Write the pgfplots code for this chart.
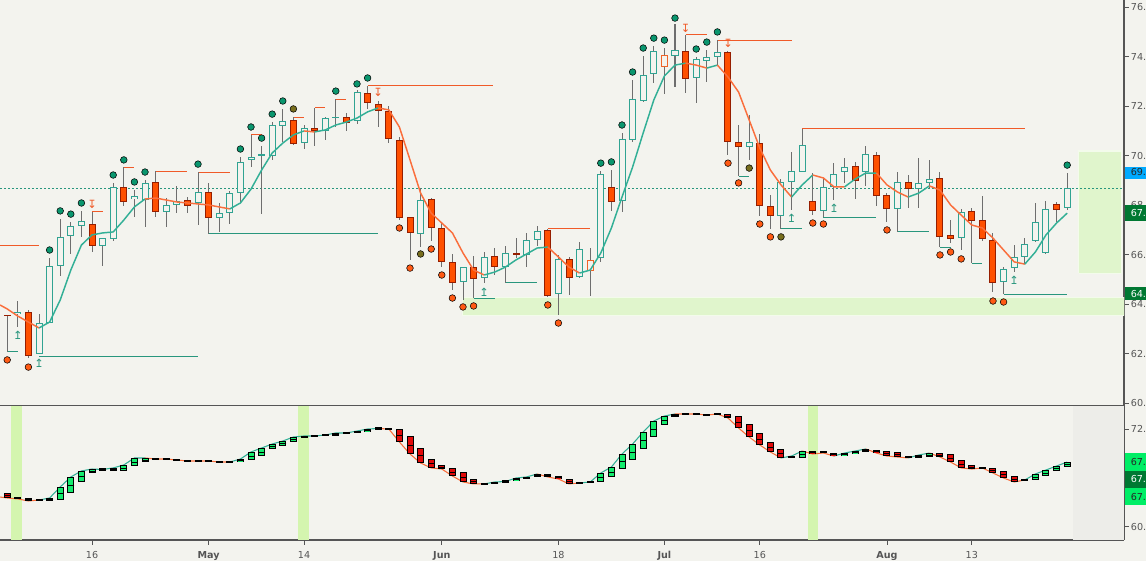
\documentclass[border=0pt]{standalone}
\usepackage{fontspec}
\setmainfont{DejaVu Sans}
\usepackage{pgfplots}
\pgfplotsset{compat=1.18}
\usepackage{pgfplotstable}
\definecolor{bg}{RGB}{243,243,238}
\definecolor{upc}{RGB}{48,163,146}
\definecolor{dnf}{RGB}{255,80,0}
\definecolor{dnb}{RGB}{150,30,0}
\definecolor{orb}{RGB}{240,100,40}
\definecolor{wick}{RGB}{110,110,110}
\definecolor{gdot}{RGB}{10,150,110}
\definecolor{odot}{RGB}{255,90,20}
\definecolor{olv}{RGB}{120,110,30}
\definecolor{mat}{RGB}{50,175,150}
\definecolor{mao}{RGB}{250,110,60}
\definecolor{resc}{RGB}{240,90,40}
\definecolor{supc}{RGB}{40,150,125}
\definecolor{band}{RGB}{224,245,204}
\definecolor{vband}{RGB}{212,245,175}
\definecolor{lred}{RGB}{225,10,10}
\definecolor{lgrn}{RGB}{20,235,110}
\definecolor{axc}{RGB}{85,85,85}
\definecolor{shade}{RGB}{237,237,233}
\definecolor{lblue}{RGB}{0,170,255}
\definecolor{dgrn}{RGB}{0,120,50}
\definecolor{bgrn}{RGB}{0,238,102}

\pgfplotstableread{
i o h l c
-7 63.59 64.13 63.08 63.70
-5 61.99 63.60 61.99 63.24
-4 63.24 65.87 63.24 65.54
-3 65.54 67.44 65.14 66.72
-2 66.76 67.32 66.03 67.16
-1 67.16 67.77 66.72 67.36
1 66.35 66.67 65.54 66.67
2 66.63 68.90 66.55 68.74
4 68.25 68.61 67.52 68.37
5 68.21 69.02 67.12 68.90
7 67.73 68.29 67.12 68.01
8 68.01 68.78 67.68 68.17
10 68.09 69.34 67.20 68.53
12 67.48 68.09 66.92 67.68
13 67.68 68.57 67.24 68.49
14 68.49 69.95 68.09 69.75
15 69.83 70.84 69.54 69.95
16 70.02 70.39 67.64 70.04
17 69.99 71.36 69.83 71.24
18 71.20 71.89 70.55 71.40
20 70.51 71.24 70.27 71.12
22 71.00 71.56 70.63 71.52
23 71.55 72.29 71.16 71.57
25 71.40 72.65 71.28 72.57
31 66.84 68.69 66.31 68.21
35 64.90 65.50 64.17 65.50
37 65.06 66.11 64.86 65.91
39 65.50 66.35 64.86 66.07
41 65.99 66.88 65.50 66.59
42 66.59 67.16 66.35 66.96
44 64.41 65.99 63.56 65.83
46 65.10 66.51 65.06 66.23
48 65.87 69.38 65.71 69.26
50 68.17 70.92 67.73 70.67
51 70.63 73.06 70.55 72.29
52 72.21 74.03 72.17 73.26
53 73.30 74.43 72.94 74.23
55 74.03 75.32 72.78 74.27
57 73.14 73.99 72.13 73.91
58 73.83 74.27 72.98 73.99
59 73.99 74.67 73.66 74.19
62 70.35 71.64 69.83 70.55
65 67.56 69.06 67.04 68.94
66 68.94 70.15 67.81 69.38
67 69.34 71.08 69.34 70.43
69 67.77 69.06 67.52 68.74
70 68.74 69.70 68.21 69.26
71 69.34 69.91 68.90 69.54
73 69.34 70.39 68.78 70.07
76 67.85 69.34 66.92 68.94
78 68.65 69.91 67.89 68.90
79 68.90 69.83 68.69 69.06
82 66.67 67.85 66.19 67.73
86 64.90 65.50 64.41 65.42
87 65.46 66.39 65.30 65.91
88 65.91 66.67 65.62 66.43
89 66.55 68.09 66.51 67.32
90 66.07 68.17 66.03 67.85
92 67.89 69.30 67.81 68.69
}\upC

\pgfplotstableread{
i o h l c
-8 63.56 63.58 62.07 63.54
-6 63.69 63.77 61.83 61.91
0 67.24 67.73 66.11 66.35
3 68.74 69.54 67.97 68.13
6 68.94 69.38 67.52 67.73
9 68.21 68.33 67.68 67.97
11 68.53 68.90 66.84 67.48
19 71.44 71.56 70.43 70.47
21 71.12 71.93 70.39 71.00
24 71.56 71.72 71.00 71.32
26 72.53 72.82 71.89 72.13
27 72.09 72.21 71.16 71.81
28 71.81 72.01 70.51 70.67
29 70.63 70.76 67.40 67.48
30 67.52 67.52 65.79 66.88
32 68.25 68.29 66.55 67.08
33 67.08 67.28 65.50 65.71
34 65.71 66.03 64.57 64.86
36 65.50 65.95 64.25 65.02
38 65.95 66.27 65.18 65.50
40 66.04 66.67 65.87 66.02
43 67.00 67.04 64.29 64.33
45 65.83 65.91 64.37 65.06
49 68.74 69.42 67.77 68.13
56 74.23 74.88 72.53 73.10
60 74.19 74.23 70.03 70.55
61 70.55 71.24 69.18 70.35
63 70.51 70.88 67.56 67.97
64 67.97 68.41 67.04 67.56
68 68.17 69.30 67.60 67.77
72 69.58 69.75 68.25 68.98
74 70.03 70.15 67.97 68.37
75 68.41 68.49 67.32 67.85
77 68.94 69.22 67.89 68.65
80 69.10 69.34 66.31 66.72
81 66.80 67.40 66.47 66.63
83 67.77 67.89 65.66 67.36
84 67.40 68.37 66.55 66.63
85 66.59 66.88 64.49 64.86
91 68.05 68.13 67.32 67.81
}\dnC

\pgfplotstableread{
i o h l c
47 65.34 66.27 64.33 65.79
54 73.58 74.35 72.49 74.07
}\orC

\pgfplotstableread{
i v
-8.68 63.97
-8 63.81
-7 63.52
-6 63.28
-5 63.04
-4 63.28
-3 64.17
-2 65.38
-1 66.39
0 66.80
1 66.88
2 66.92
3 67.40
4 67.93
5 68.25
6 68.29
7 68.21
8 68.13
9 68.09
10 68.05
11 68.01
12 67.93
13 67.85
14 68.09
15 68.65
16 69.42
17 70.11
18 70.51
19 70.84
20 71.00
21 70.96
22 71.04
23 71.24
24 71.36
25 71.52
26 71.77
27 71.93
28 71.85
29 71.16
30 69.83
31 68.49
32 67.68
33 67.28
34 66.88
35 66.07
36 65.38
37 65.18
38 65.30
39 65.50
40 65.79
41 66.03
42 66.27
43 66.31
44 65.91
45 65.50
46 65.26
47 65.38
48 66.07
49 67.08
50 68.33
51 69.54
52 70.92
53 72.25
54 73.22
55 73.66
56 73.74
57 73.66
58 73.54
59 73.66
60 73.18
61 72.57
62 71.44
63 70.31
64 69.42
65 68.82
66 68.33
67 68.82
68 69.22
69 69.10
70 68.74
71 68.74
72 69.06
73 69.30
74 69.30
75 68.82
76 68.53
77 68.33
78 68.49
79 68.78
80 68.61
81 68.01
82 67.60
83 67.20
84 67.08
85 66.67
86 66.19
87 65.71
88 65.62
89 66.11
90 66.80
91 67.28
92 67.68
}\ma

\pgfplotstableread{
i v
-4 66.19
-3 67.77
-2 67.64
-1 68.09
2 69.22
3 69.83
4 68.94
5 69.34
10 69.66
14 70.27
15 71.16
16 70.71
17 71.68
18 72.21
23 72.61
25 72.90
26 73.14
48 69.70
49 69.75
50 71.24
51 73.38
52 74.35
53 74.75
54 74.67
55 75.56
57 74.31
58 74.59
59 75.00
92 69.62
}\gdots

\pgfplotstableread{
i v
-8 61.75
-6 61.46
29 67.08
30 65.46
32 66.23
33 65.18
34 64.25
35 63.89
36 63.93
43 63.97
44 63.24
60 69.70
61 68.90
63 67.24
64 66.72
68 67.28
69 67.24
75 67.00
80 65.99
81 66.11
82 65.83
85 64.13
86 64.09
}\odots

\pgfplotstableread{
i v
19 71.89
31 66.03
62 69.50
65 66.72
}\ovdots

\pgfplotstableread{
i v
-8.68 63.66
-8 63.54
-7 63.42
-6 63.17
-5 63.29
-4 63.54
-3 64.90
-2 66.13
-1 66.87
0 67.11
1 67.05
2 67.24
3 67.61
4 68.47
5 68.47
6 68.34
7 68.34
8 68.22
9 68.10
10 68.10
11 68.10
12 67.97
13 67.97
14 68.34
15 69.21
16 69.70
17 70.19
18 70.56
19 71.05
20 71.18
21 71.18
22 71.30
23 71.55
24 71.55
25 71.79
26 72.04
27 72.10
28 72.04
29 70.44
30 68.96
31 67.85
32 67.24
33 67.11
34 66.25
35 65.51
36 65.27
37 65.27
38 65.51
39 65.57
40 66.00
41 66.13
42 66.50
43 66.13
44 65.88
45 65.27
46 65.39
47 65.51
48 66.62
49 67.36
50 68.96
51 70.19
52 71.67
53 73.02
54 73.64
55 73.89
56 73.89
57 73.89
58 73.76
59 73.89
60 73.39
61 72.16
62 71.05
63 70.07
64 69.21
65 68.47
66 68.71
67 69.33
68 68.96
69 69.08
70 68.71
71 69.08
72 69.33
73 69.58
74 69.08
75 68.71
76 68.59
77 68.47
78 68.84
79 69.08
80 68.59
81 67.97
82 67.24
83 67.11
84 67.24
85 66.62
86 66.00
87 65.51
88 65.76
89 66.50
90 66.99
91 67.48
92 67.97
}\lline

\pgfplotstableread{
i t b
-8 64.16 63.54
-7 63.66 63.42
-6 63.54 63.17
29 72.04 70.44
30 71.18 68.96
31 69.70 67.85
32 68.34 67.24
33 67.61 67.11
34 67.24 66.25
35 66.74 65.51
36 65.88 65.27
43 66.50 66.13
44 66.25 65.88
45 65.88 65.27
60 73.89 73.39
61 73.64 72.16
62 72.65 71.05
63 71.55 70.07
64 70.44 69.21
65 69.58 68.47
68 69.33 68.96
69 69.33 69.08
70 69.08 68.71
74 69.45 69.08
75 69.33 68.71
76 69.21 68.59
77 68.71 68.47
80 69.08 68.59
81 68.96 67.97
82 68.22 67.24
83 67.61 67.11
85 67.24 66.62
86 66.87 66.00
87 66.25 65.51
}\lR

\pgfplotstableread{
i t b
-4 63.54 63.17
-3 64.90 63.29
-2 66.13 64.16
-1 66.87 65.51
0 67.11 66.62
2 67.24 66.87
3 67.61 66.87
4 68.47 67.48
5 68.47 67.97
14 68.34 67.97
15 69.21 68.22
16 69.70 68.71
17 70.19 69.58
18 70.56 69.95
19 71.05 70.44
20 71.18 70.93
23 71.55 71.18
25 71.79 71.55
26 72.04 71.67
38 65.51 65.27
40 66.00 65.63
41 66.13 65.88
42 66.50 66.13
48 66.62 65.51
49 67.36 66.13
50 68.96 67.11
51 70.19 68.22
52 71.67 69.58
53 73.02 71.05
54 73.64 72.53
55 73.89 73.52
66 68.71 68.47
67 69.33 68.47
71 69.08 68.71
72 69.33 68.96
73 69.58 69.21
78 68.84 68.47
79 69.08 68.59
89 66.50 65.76
90 66.99 66.25
91 67.48 66.87
92 67.97 67.36
}\lG

\pgfplotstableread{
i v
-5 63.29
1 67.05
6 68.34
7 68.34
8 68.22
9 68.10
10 68.10
11 68.10
12 67.97
13 67.97
21 71.18
22 71.30
24 71.55
27 72.10
28 72.04
37 65.27
39 65.57
46 65.39
47 65.51
56 73.89
57 73.89
58 73.76
59 73.89
84 67.24
88 65.76
}\lK

\pgfplotsset{
  panel/.style={scale only axis, width=843pt, xmin=-8.68, xmax=97.36,
    axis y line*=right, axis x line*=bottom,
    axis line style={draw=axc, line width=0.8pt},
    tick style={draw=axc, line width=0.6pt},
    major tick length=3.5pt, tick align=outside,
    ticklabel style={font=\fontsize{7.2}{9}\selectfont, text=axc},
    yticklabel style={inner sep=1.5pt},
    /pgf/number format/fixed, /pgf/number format/fixed zerofill,
    /pgf/number format/precision=2, /pgf/number format/assume math mode=true},
  wk/.style={draw=none, mark=none, error bars/.cd, y dir=both, y explicit, error mark=none,
    error bar style={draw=wick, line width=0.75pt}},
  bx/.style={draw=none, mark=none, error bars/.cd, y dir=both, y explicit, error mark=none,
    error bar style={draw=#1, line width=5.25pt}},
  bi/.style={draw=none, mark=none, error bars/.cd, y dir=both, y explicit, error mark=none,
    error bar style={draw=#1, line width=3.75pt}},
}
\newcommand{\wicks}[1]{\addplot[wk] table[x=i, y expr={(\thisrow{h}+\thisrow{l})/2}, y error expr={(\thisrow{h}-\thisrow{l})/2}] {#1};}
\newcommand{\bodies}[3]{%
  \addplot[bx=#2] table[x=i, y expr={(\thisrow{o}+\thisrow{c})/2}, y error expr={max(abs(\thisrow{o}-\thisrow{c})/2,0.02)}] {#1};
  \addplot[bi=#3] table[x=i, y expr={(\thisrow{o}+\thisrow{c})/2}, y error expr={max(abs(\thisrow{o}-\thisrow{c})/2-0.0404,0)}] {#1};}
\newcommand{\lboxes}[2]{%
  \addplot[bx=black] table[x=i, y expr={(\thisrow{t}+\thisrow{b})/2}, y error expr={max((\thisrow{t}-\thisrow{b})/2,0.123)}] {#1};
  \addplot[bi=#2] table[x=i, y expr={(\thisrow{t}+\thisrow{b})/2}, y error expr={max((\thisrow{t}-\thisrow{b})/2-0.123,0)}] {#1};
  \addplot[only marks, mark=-, mark size=2.6pt, mark options={draw=black, line width=0.6pt}] table[x=i, y expr={(\thisrow{t}+\thisrow{b})/2}] {#1};}
\newcommand{\seg}[4]{\addplot[#1, line width=#2, restrict x to domain=#3] table[x=i, y=v] {#4};}

\begin{document}
\begin{tikzpicture}[x=0.75pt,y=-0.75pt]
\fill[bg] (0,0) rectangle (1146,561);
\begin{axis}[panel, at={(0pt,0pt)}, anchor=north west, height=304.28pt,
  ymin=59.90, ymax=76.29, ytick={60,62,...,76}, xtick=\empty]
% zones
\addplot[fill=band, draw=white!60!band, line width=0.6pt] coordinates {(34.9,63.56) (97.36,63.56) (97.36,64.29) (34.9,64.29) (34.9,63.56)};
\addplot[fill=band, draw=white!60!band, line width=0.8pt] coordinates {(93.1,65.26) (97.1,65.26) (97.1,70.19) (93.1,70.19) (93.1,65.26)};
\addplot[supc, line width=0.6pt, dash pattern=on 1.5pt off 1.5pt] coordinates {(-8.68,68.69) (97.36,68.69)};
% resistance lines
\addplot[resc, line width=0.75pt] coordinates {(-8.68,66.39) (-5,66.39)};
\addplot[resc, line width=0.75pt] coordinates {(0,67.73) (1,67.73)};
\addplot[resc, line width=0.75pt] coordinates {(3,69.54) (4,69.54)};
\addplot[resc, line width=0.75pt] coordinates {(6,69.38) (9,69.38)};
\addplot[resc, line width=0.75pt] coordinates {(10,69.34) (13,69.34)};
\addplot[resc, line width=0.75pt] coordinates {(15,70.84) (16,70.84)};
\addplot[resc, line width=0.75pt] coordinates {(19,71.56) (20,71.56)};
\addplot[resc, line width=0.75pt] coordinates {(21,71.93) (22,71.93)};
\addplot[resc, line width=0.75pt] coordinates {(23,72.29) (24,72.29)};
\addplot[resc, line width=0.75pt] coordinates {(26,72.82) (37.8,72.82)};
\addplot[resc, line width=0.75pt] coordinates {(43,67.04) (47,67.04)};
\addplot[resc, line width=0.75pt] coordinates {(56,74.88) (58,74.88)};
\addplot[resc, line width=0.75pt] coordinates {(59,74.67) (66,74.67)};
\addplot[resc, line width=0.75pt] coordinates {(67,71.08) (88,71.08)};
% support lines
\addplot[supc, line width=0.75pt] coordinates {(-8,62.07) (-7,62.07)};
\addplot[supc, line width=0.75pt] coordinates {(-5,61.87) (10,61.87)};
\addplot[supc, line width=0.75pt] coordinates {(11,66.84) (27,66.84)};
\addplot[supc, line width=0.75pt] coordinates {(36,64.25) (38,64.25)};
\addplot[supc, line width=0.75pt] coordinates {(39,64.86) (42,64.86)};
\addplot[supc, line width=0.75pt] coordinates {(61,69.18) (62,69.18)};
\addplot[supc, line width=0.75pt] coordinates {(65,67.04) (67,67.04)};
\addplot[supc, line width=0.75pt] coordinates {(69,67.52) (74,67.52)};
\addplot[supc, line width=0.75pt] coordinates {(76,66.92) (79,66.92)};
\addplot[supc, line width=0.75pt] coordinates {(80,66.31) (81,66.31)};
\addplot[supc, line width=0.75pt] coordinates {(83,65.66) (84,65.66)};
\addplot[supc, line width=0.75pt] coordinates {(86,64.41) (92,64.41)};
% candles
\wicks{\upC}\wicks{\dnC}\wicks{\orC}
\bodies{\upC}{upc}{bg}
\bodies{\dnC}{dnb}{dnf}
\bodies{\orC}{orb}{bg}
% moving average
\seg{mao}{1.1pt}{-8.68:-5}{\ma}
\seg{mat}{1.1pt}{-5:5}{\ma}
\seg{mao}{1.1pt}{5:13}{\ma}
\seg{mat}{1.1pt}{13:20}{\ma}
\seg{mao}{1.1pt}{20:21}{\ma}
\seg{mat}{1.1pt}{21:27}{\ma}
\seg{mao}{1.1pt}{27:37}{\ma}
\seg{mat}{1.1pt}{37:43}{\ma}
\seg{mao}{1.1pt}{43:46}{\ma}
\seg{mat}{1.1pt}{46:56}{\ma}
\seg{mao}{1.1pt}{56:58}{\ma}
\seg{mat}{1.1pt}{58:59}{\ma}
\seg{mao}{1.1pt}{59:66}{\ma}
\seg{mat}{1.1pt}{66:68}{\ma}
\seg{mao}{1.1pt}{68:71}{\ma}
\seg{mat}{1.1pt}{71:74}{\ma}
\seg{mao}{1.1pt}{74:77}{\ma}
\seg{mat}{1.1pt}{77:79}{\ma}
\seg{mao}{1.1pt}{79:88}{\ma}
\seg{mat}{1.1pt}{88:92}{\ma}
% dots
\addplot[only marks, mark=*, mark size=2.5pt, mark options={fill=gdot, draw=none}] table[x=i, y=v] {\gdots};
\addplot[only marks, mark=*, mark size=2.5pt, mark options={fill=odot, draw=none}] table[x=i, y=v] {\odots};
\addplot[only marks, mark=*, mark size=2.5pt, mark options={fill=olv, draw=none}] table[x=i, y=v] {\ovdots};
% arrows
\addplot[only marks, mark=text, text mark={↥}, text mark as node=true, text mark style={font=\fontsize{8.5}{8.5}\selectfont, text=supc, inner sep=0pt}] coordinates {(-7,62.76) (-5,61.62) (37,64.49) (66,67.48) (70,67.89) (87,64.98)};
\addplot[only marks, mark=text, text mark={↧}, text mark as node=true, text mark style={font=\fontsize{8.5}{8.5}\selectfont, text=resc, inner sep=0pt}] coordinates {(0,68.05) (27,72.57) (56,75.16) (60,74.55)};
\end{axis}

\begin{axis}[panel, at={(0pt,-304.28pt)}, anchor=north west, height=100.73pt,
  ymin=58.36, ymax=74.91, ytick={60,72},
  xtick={0,11,20,33,44,54,63,75,83},
  xticklabels={16,\textbf{May},14,\textbf{Jun},18,\textbf{Jul},16,\textbf{Aug},13},
  xticklabel style={yshift=-1.5pt}]
\addplot[fill=shade, draw=none] coordinates {(92.55,58.36) (97.36,58.36) (97.36,74.91) (92.55,74.91)};
\addplot[fill=vband, draw=none] coordinates {(-7.64,58.36) (-6.60,58.36) (-6.60,74.91) (-7.64,74.91)};
\addplot[fill=vband, draw=none] coordinates {(19.43,58.36) (20.47,58.36) (20.47,74.91) (19.43,74.91)};
\addplot[fill=vband, draw=none] coordinates {(67.55,58.36) (68.49,58.36) (68.49,74.91) (67.55,74.91)};
\seg{mao}{0.8pt}{-8.68:-5}{\lline}
\seg{mat}{0.8pt}{-5:5}{\lline}
\seg{mao}{0.8pt}{5:13}{\lline}
\seg{mat}{0.8pt}{13:27}{\lline}
\seg{mao}{0.8pt}{27:37}{\lline}
\seg{mat}{0.8pt}{37:42}{\lline}
\seg{mao}{0.8pt}{42:46}{\lline}
\seg{mat}{0.8pt}{46:55}{\lline}
\seg{mao}{0.8pt}{55:65}{\lline}
\seg{mat}{0.8pt}{65:67}{\lline}
\seg{mao}{0.8pt}{67:70}{\lline}
\seg{mat}{0.8pt}{70:73}{\lline}
\seg{mao}{0.8pt}{73:77}{\lline}
\seg{mat}{0.8pt}{77:79}{\lline}
\seg{mao}{0.8pt}{79:88}{\lline}
\seg{mat}{0.8pt}{88:92}{\lline}
\lboxes{\lR}{lred}
\lboxes{\lG}{lgrn}
\addplot[bx=black] table[x=i, y=v, y error expr={0.17}] {\lK};
\end{axis}

% value boxes on the price scale
\fill[lblue] (1124.6,166.5) rectangle (1146,178.5);
\node[anchor=west, inner sep=0pt, font=\fontsize{7.2}{9}\selectfont, text=black!85] at (1130.5,172.5) {69.34};
\fill[dgrn] (1124.6,205) rectangle (1146,221);
\node[anchor=west, inner sep=0pt, font=\fontsize{7.2}{9}\selectfont, text=white] at (1130.5,213) {67.68};
\fill[dgrn] (1124.6,287) rectangle (1146,300);
\node[anchor=west, inner sep=0pt, font=\fontsize{7.2}{9}\selectfont, text=white] at (1130.5,293.5) {64.45};
\fill[bgrn] (1124.6,453) rectangle (1146,471);
\node[anchor=west, inner sep=0pt, font=\fontsize{7.2}{9}\selectfont, text=black!85] at (1130.5,462) {67.97};
\fill[dgrn] (1124.6,471) rectangle (1146,487.5);
\node[anchor=west, inner sep=0pt, font=\fontsize{7.2}{9}\selectfont, text=white] at (1130.5,479.3) {67.68};
\fill[bgrn] (1124.6,487.5) rectangle (1146,505);
\node[anchor=west, inner sep=0pt, font=\fontsize{7.2}{9}\selectfont, text=black!85] at (1130.5,496.5) {67.36};
\pgfresetboundingbox
\path[use as bounding box] (0,0) rectangle (1146,561);
\end{tikzpicture}
\end{document}
